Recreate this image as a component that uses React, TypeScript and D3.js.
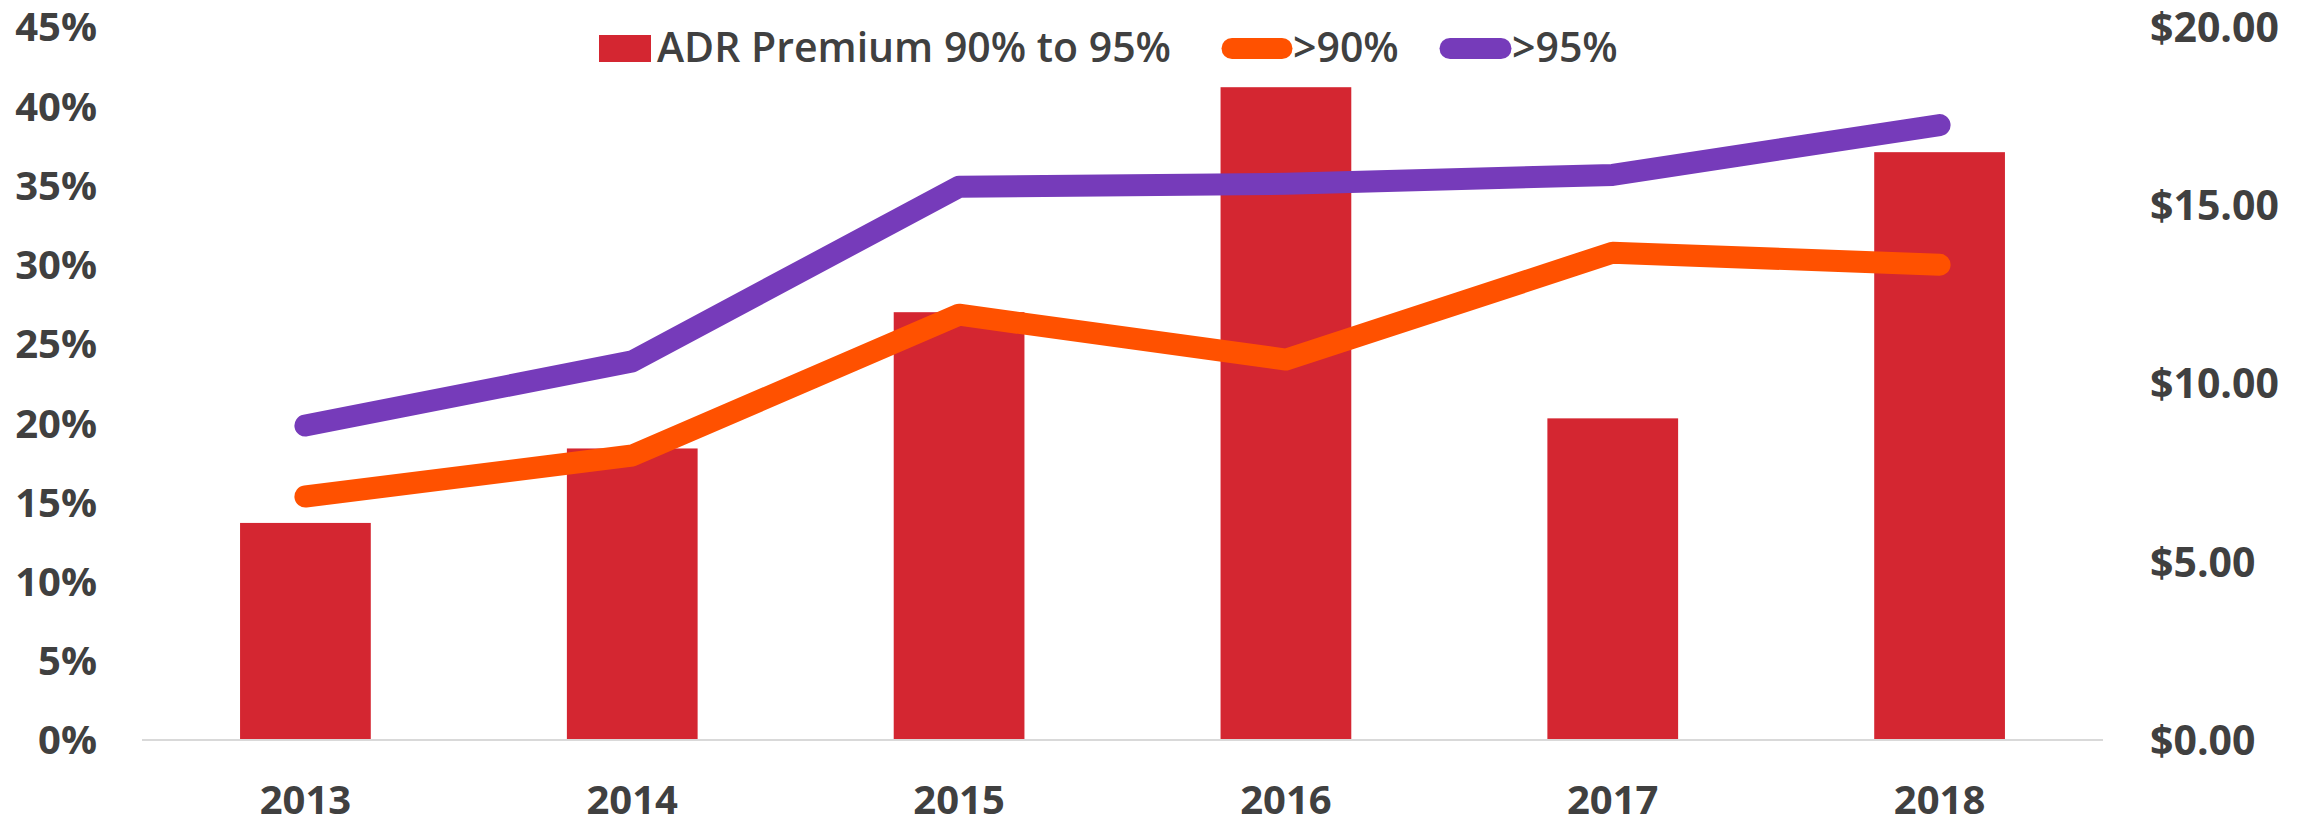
import React from "react";
import * as d3 from "d3";

const years = ["2013", "2014", "2015", "2016", "2017", "2018"];
const adrPremium = [13.7, 18.4, 27.0, 41.2, 20.3, 37.1];
const over90 = [6.83, 7.98, 11.93, 10.67, 13.67, 13.33];
const over95 = [8.82, 10.62, 15.52, 15.6, 15.85, 17.25];
const pctTicks = [0, 5, 10, 15, 20, 25, 30, 35, 40, 45];
const dollarTicks = [0, 5, 10, 15, 20];

const W = 2313;
const H = 820;
const margin = { top: 27, right: 210, bottom: 80, left: 142 };
const textColor = "#404040";
const font = "'Open Sans', sans-serif";

export default function App() {
  const x = d3
    .scaleBand<string>()
    .domain(years)
    .range([margin.left, W - margin.right])
    .paddingInner(0.6)
    .paddingOuter(0.3);
  const yL = d3.scaleLinear().domain([0, 45]).range([H - margin.bottom, margin.top]);
  const yR = d3.scaleLinear().domain([0, 20]).range([H - margin.bottom, margin.top]);
  const cx = (y: string) => x(y)! + x.bandwidth() / 2;

  const line = d3
    .line<number>()
    .x((_, i) => cx(years[i]))
    .y(d => yR(d));

  const base = yL(0);

  return (
    <svg width={W} height={H} style={{ position: "absolute", left: 0, top: 0, background: "#fff" }}>
      {/* bars */}
      {adrPremium.map((v, i) => (
        <rect key={years[i]} x={x(years[i])} y={yL(v)} width={x.bandwidth()} height={base - yL(v)} fill="#D42631" />
      ))}
      {/* baseline */}
      <line x1={margin.left} x2={W - margin.right} y1={base} y2={base} stroke="#D9D9D9" strokeWidth={2} />
      {/* lines */}
      <path d={line(over90)!} fill="none" stroke="#FF5100" strokeWidth={22} strokeLinecap="round" strokeLinejoin="round" />
      <path d={line(over95)!} fill="none" stroke="#763BBA" strokeWidth={22} strokeLinecap="round" strokeLinejoin="round" />

      {/* left axis */}
      {pctTicks.map(t => (
        <text key={t} x={97} y={yL(t)} dy="0.36em" textAnchor="end" fontFamily={font} fontWeight={700} fontSize={40} fill={textColor}>
          {t}%
        </text>
      ))}
      {/* right axis */}
      {dollarTicks.map(t => (
        <text key={t} x={2150} y={yR(t)} dy="0.36em" textAnchor="start" fontFamily={font} fontWeight={700} fontSize={41} fill={textColor}>
          ${t.toFixed(2)}
        </text>
      ))}
      {/* x axis */}
      {years.map(y => (
        <text key={y} x={cx(y)} y={814} textAnchor="middle" fontFamily={font} fontWeight={700} fontSize={40} fill={textColor}>
          {y}
        </text>
      ))}

      {/* legend */}
      <rect x={599} y={35} width={52} height={27} fill="#D42631" />
      <text x={657} y={62} fontFamily={font} fontWeight={600} fontSize={41} fill={textColor}>
        ADR Premium 90% to 95%
      </text>
      <line x1={1232} x2={1282} y1={48.5} y2={48.5} stroke="#FF5100" strokeWidth={21} strokeLinecap="round" />
      <text x={1293} y={62} fontFamily={font} fontWeight={600} fontSize={41} fill={textColor}>
        &gt;90%
      </text>
      <line x1={1450} x2={1501} y1={48.5} y2={48.5} stroke="#763BBA" strokeWidth={21} strokeLinecap="round" />
      <text x={1512} y={62} fontFamily={font} fontWeight={600} fontSize={41} fill={textColor}>
        &gt;95%
      </text>
    </svg>
  );
}
